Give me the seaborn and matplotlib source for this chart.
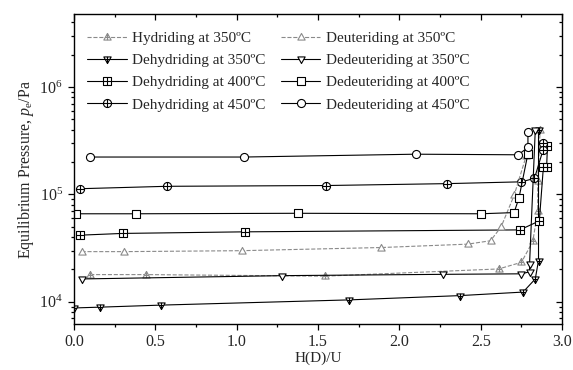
import matplotlib
matplotlib.use("Agg")
import matplotlib.pyplot as plt
import seaborn as sns
from matplotlib.path import Path
from matplotlib.ticker import LogLocator, MultipleLocator, LogFormatterSciNotation, NullFormatter

# ---------------- data ----------------
hyd350_x = [0.10, 0.44, 1.54, 2.61, 2.75, 2.82, 2.85, 2.85, 2.865]
hyd350_p = [1.79e4, 1.79e4, 1.73e4, 2.02e4, 2.33e4, 3.65e4, 7.0e4, 1.33e5, 4.0e5]

dehyd350_x = [2.855, 2.855, 2.835, 2.76, 2.37, 1.69, 0.535, 0.16, 0.0]
dehyd350_p = [4.0e5, 2.42e4, 1.63e4, 1.23e4, 1.14e4, 1.04e4, 9.3e3, 8.9e3, 8.75e3]

dehyd400_x = [2.91, 2.905, 2.885, 2.86, 2.74, 1.05, 0.30, 0.037]
dehyd400_p = [2.85e5, 1.81e5, 1.81e5, 5.66e4, 4.67e4, 4.48e4, 4.33e4, 4.17e4]

dehyd450_x = [2.885, 2.883, 2.83, 2.75, 2.29, 1.55, 0.57, 0.037]
dehyd450_p = [3.0e5, 2.6e5, 1.41e5, 1.31e5, 1.26e5, 1.21e5, 1.19e5, 1.13e5]

deut350_x = [0.047, 0.31, 1.03, 1.89, 2.42, 2.56, 2.625, 2.705, 2.78]
deut350_p = [2.93e4, 2.93e4, 2.99e4, 3.2e4, 3.44e4, 3.7e4, 4.98e4, 9.8e4, 2.3e5]

dedeut350_x = [2.835, 2.80, 2.80, 2.75, 2.27, 1.28, 0.047]
dedeut350_p = [3.95e5, 2.25e4, 1.9e4, 1.82e4, 1.80e4, 1.75e4, 1.63e4]

dedeut400_x = [2.79, 2.735, 2.705, 2.50, 1.375, 0.38, 0.012]
dedeut400_p = [2.4e5, 9.3e4, 6.77e4, 6.6e4, 6.67e4, 6.6e4, 6.6e4]

dedeut450_x = [2.79, 2.79, 2.73, 2.10, 1.045, 0.098]
dedeut450_p = [3.81e5, 2.74e5, 2.34e5, 2.37e5, 2.23e5, 2.23e5]

labels = ["Hydriding at 350\u00baC", "Dehydriding at 350\u00baC",
          "Dehydriding at 400\u00baC", "Dehydriding at 450\u00baC",
          "Deuteriding at 350\u00baC", "Dedeuteriding at 350\u00baC",
          "Dedeuteriding at 400\u00baC", "Dedeuteriding at 450\u00baC"]

x_ticks = [0.0, 0.5, 1.0, 1.5, 2.0, 2.5, 3.0]

# ---------------- marker shapes ----------------
M, L, C = Path.MOVETO, Path.LINETO, Path.CLOSEPOLY
circle = Path.unit_circle()
square = Path([(-1, -1), (1, -1), (1, 1), (-1, 1), (-1, -1)], [M, L, L, L, C])
tri_up = Path([(0, 1.1), (-1, -0.7), (1, -0.7), (0, 1.1)], [M, L, L, C])
tri_dn = Path([(0, -1.1), (-1, 0.7), (1, 0.7), (0, -1.1)], [M, L, L, C])
cross = Path([(-1, 0), (1, 0), (0, -1), (0, 1)], [M, L, M, L])
cross_up = Path([(-0.55, 0.0), (0.55, 0.0), (0, -0.7), (0, 1.1)], [M, L, M, L])
cross_dn = Path([(-0.55, 0.0), (0.55, 0.0), (0, 0.7), (0, -1.1)], [M, L, M, L])

circle_p = Path.make_compound_path(circle, cross)
square_p = Path.make_compound_path(square, cross)
tri_up_p = Path.make_compound_path(tri_up, cross_up)
tri_dn_p = Path.make_compound_path(tri_dn, cross_dn)

# ---------------- style ----------------
sns.set_style("ticks")
plt.rcParams["font.family"] = ["Liberation Serif", "DejaVu Serif"]
plt.rcParams["mathtext.fontset"] = "custom"
plt.rcParams["mathtext.rm"] = "Liberation Serif"
plt.rcParams["mathtext.it"] = "Liberation Serif:italic"
plt.rcParams["axes.linewidth"] = 1.0

fig = plt.figure(figsize=(5.73, 3.70), dpi=100)
ax = fig.add_axes([0.129, 0.1243, 0.852, 0.8379])

gray = "#8a8a8a"
series = [
    (hyd350_x, hyd350_p, gray, "--", tri_up_p),
    (dehyd350_x, dehyd350_p, "black", "-", tri_dn_p),
    (dehyd400_x, dehyd400_p, "black", "-", square_p),
    (dehyd450_x, dehyd450_p, "black", "-", circle_p),
    (deut350_x, deut350_p, gray, "--", tri_up),
    (dedeut350_x, dedeut350_p, "black", "-", tri_dn),
    (dedeut400_x, dedeut400_p, "black", "-", square),
    (dedeut450_x, dedeut450_p, "black", "-", circle),
]

for (xs, ps, col, ls, mk), lab in zip(series, labels):
    sns.lineplot(x=xs, y=ps, ax=ax, sort=False, estimator=None, legend=False,
                 color=col, linestyle=ls, linewidth=0.8,
                 marker=mk, markersize=5.8, markerfacecolor="white",
                 markeredgecolor=col, markeredgewidth=0.8, label=lab)

ax.set_yscale("log")
ax.set_xlim(0, 3.0)
ax.set_ylim(6.2e3, 4.8e6)

ax.xaxis.set_minor_locator(MultipleLocator(0.25))
ax.set_xticks(x_ticks)
ax.set_xticklabels([f"{v:.1f}" for v in x_ticks])
ax.yaxis.set_major_locator(LogLocator(base=10, numticks=10))
ax.yaxis.set_minor_locator(LogLocator(base=10, subs=range(2, 10), numticks=20))
ax.yaxis.set_major_formatter(LogFormatterSciNotation())
ax.yaxis.set_minor_formatter(NullFormatter())

ax.tick_params(axis="both", which="both", top=True, right=True,
               labelsize=11.5, color="black", width=0.9)
ax.tick_params(axis="both", which="major", length=4.5)
ax.tick_params(axis="both", which="minor", length=2.5)
ax.tick_params(axis="x", which="both", direction="out", bottom=True, pad=3)
ax.tick_params(axis="y", which="both", direction="out", left=True)
# top and right ticks point inward
for t in ax.xaxis.get_major_ticks() + ax.xaxis.get_minor_ticks():
    t.tick2line.set_marker(3)  # TICKDOWN
for t in ax.yaxis.get_major_ticks() + ax.yaxis.get_minor_ticks():
    t.tick2line.set_marker(0)  # TICKLEFT

for sp in ax.spines.values():
    sp.set_color("black")
    sp.set_linewidth(1.0)

ax.set_xlabel("H(D)/U", fontsize=11, labelpad=0.5)
ax.set_ylabel("Equilibrium Pressure, $p_\\mathrm{e}$/Pa", fontsize=11.5, labelpad=2)

handles, labs = ax.get_legend_handles_labels()
ax.legend(handles, labs, ncol=2, loc="upper left", bbox_to_anchor=(0.005, 0.979),
          frameon=False, fontsize=11, handlelength=2.6, handletextpad=0.35,
          columnspacing=1.0, labelspacing=0.56, borderaxespad=0.3)

fig.savefig("out.png", dpi=100)
